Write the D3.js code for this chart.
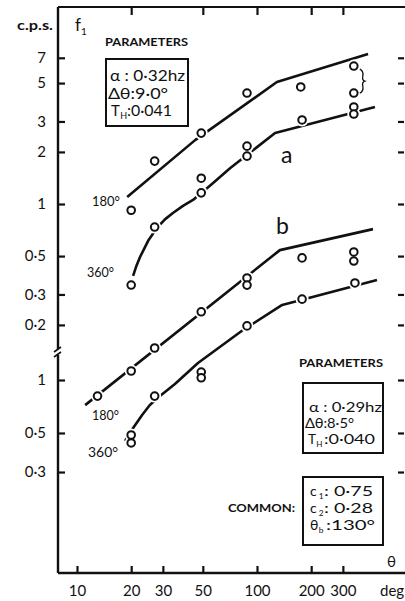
<!DOCTYPE html>
<html><head><meta charset="utf-8">
<script src="https://cdn.jsdelivr.net/npm/d3@7"></script>
<style>
html,body{margin:0;padding:0;background:#fff;}
svg{display:block;}
text{font-family:"Lato","Open Sans","DejaVu Sans",sans-serif;fill:#111;}
</style></head>
<body>
<script>
// ---------- data ----------
const thetaTicks = [10, 20, 30, 50, 100, 200, 300];
const thetaTickLabels = ["10", "20", "30", "50", "100", "200", "300"];
const thetaTopTicks = [20, 50, 100, 200, 300];
const fTicksA = [7, 5, 3, 2, 1, 0.5, 0.3, 0.2];
const fTickLabelsA = ["7", "5", "3", "2", "1", "0·5", "0·3", "0·2"];
const fTicksB = [1, 0.5, 0.3];
const fTickLabelsB = ["1", "0·5", "0·3"];

// set a (upper axis) measured points
const a180Theta = [20, 27, 49, 88, 175, 345, 345];
const a180F     = [0.92, 1.77, 2.57, 4.38, 4.75, 6.27, 4.38];
const a360Theta = [20, 27, 49, 49, 88, 88, 178, 345, 345];
const a360F     = [0.34, 0.736, 1.41, 1.16, 2.16, 1.89, 3.06, 3.64, 3.31];
// set a model curves
const a180LineTheta = [19.0, 45.3, 129, 414];
const a180LineF     = [1.098, 2.34, 5.07, 7.37];
const a360LineTheta = [20.5, 21.4, 22.4, 25.0, 27.8, 30.8, 34.1, 38.8, 44.1, 56, 70.8, 126, 452];
const a360LineF     = [0.384, 0.44, 0.494, 0.62, 0.727, 0.815, 0.887, 0.975, 1.055, 1.30, 1.61, 2.57, 3.64];

// set b (lower axis) measured points
const b180Theta = [13, 20, 27, 49, 88, 88, 178, 345, 345];
const b180F     = [0.81, 1.125, 1.52, 2.44, 3.80, 3.46, 4.94, 5.34, 4.74];
const b360Theta = [20, 20, 27, 49, 49, 88, 178, 350];
const b360F     = [0.487, 0.439, 0.81, 1.11, 1.03, 2.03, 2.88, 3.56];
// set b model curves
const b180LineTheta = [11.1, 134, 441];
const b180LineF     = [0.72, 5.47, 7.2];
const b360LineTheta = [18.5, 20.5, 23.0, 25.4, 28.9, 35.0, 47.0, 83.6, 138, 464];
const b360LineF     = [0.450, 0.534, 0.633, 0.721, 0.811, 0.949, 1.249, 1.923, 2.67, 3.70];

// ---------- layout ----------
const W = 405, H = 601;
const plotL = 58, plotR = 405, plotT = 7, plotB = 573;

const svg = d3.select("body").append("svg").attr("width", W).attr("height", H);

const x = d3.scaleLog().domain([10, 100]).range([77, 257]);
const yA = d3.scaleLog().domain([1, 10]).range([204, 204 - 173]);
const yB = d3.scaleLog().domain([1, 10]).range([380, 380 - 176]);

// frame
const frame = svg.append("g").attr("stroke", "#111").attr("fill", "none");
frame.append("line").attr("x1", plotL).attr("x2", plotL).attr("y1", plotT).attr("y2", plotB).attr("stroke-width", 2.4);
frame.append("line").attr("x1", plotL).attr("x2", plotR).attr("y1", plotB).attr("y2", plotB).attr("stroke-width", 2.4);
frame.append("line").attr("x1", plotL).attr("x2", plotR).attr("y1", plotT).attr("y2", plotT).attr("stroke-width", 2.2);

// axes
function styleAxis(g, fs) {
  g.select(".domain").remove();
  g.selectAll(".tick line").attr("stroke", "#111").attr("stroke-width", 2.2);
  g.selectAll(".tick text").attr("font-size", fs).attr("fill", "#111").attr("font-family", "Lato, 'Open Sans', sans-serif");
}
const axA = svg.append("g").attr("transform", `translate(${plotL},0)`)
  .call(d3.axisLeft(yA).tickValues(fTicksA).tickSize(-7).tickPadding(12)
        .tickFormat((d, i) => fTickLabelsA[i]));
styleAxis(axA, 15);
const axB = svg.append("g").attr("transform", `translate(${plotL},0)`)
  .call(d3.axisLeft(yB).tickValues(fTicksB).tickSize(-7).tickPadding(12)
        .tickFormat((d, i) => fTickLabelsB[i]));
styleAxis(axB, 15);
const axRA = svg.append("g").attr("transform", `translate(404,0)`)
  .call(d3.axisRight(yA).tickValues(fTicksA).tickSize(-6).tickFormat(""));
styleAxis(axRA, 0);
const axRB = svg.append("g").attr("transform", `translate(404,0)`)
  .call(d3.axisRight(yB).tickValues(fTicksB).tickSize(-6).tickFormat(""));
styleAxis(axRB, 0);
const axX = svg.append("g").attr("transform", `translate(0,${plotB})`)
  .call(d3.axisBottom(x).tickValues(thetaTicks).tickSize(-7).tickPadding(12)
        .tickFormat((d, i) => thetaTickLabels[i]));
styleAxis(axX, 15);
const axT = svg.append("g").attr("transform", `translate(0,${plotT})`)
  .call(d3.axisTop(x).tickValues(thetaTopTicks).tickSize(-8).tickFormat(""));
styleAxis(axT, 0);

// axis break mark
svg.append("rect").attr("x", plotL - 4).attr("y", 349).attr("width", 8).attr("height", 6).attr("fill", "#fff");
svg.append("line").attr("x1", plotL - 4).attr("y1", 352).attr("x2", plotL + 3).attr("y2", 347).attr("stroke", "#111").attr("stroke-width", 1.6);
svg.append("line").attr("x1", plotL - 4).attr("y1", 357).attr("x2", plotL + 3).attr("y2", 352).attr("stroke", "#111").attr("stroke-width", 1.6);

// curves
const zip = (t, f) => t.map((d, i) => [d, f[i]]);
const lineA = d3.line().x(d => x(d[0])).y(d => yA(d[1]));
const lineB = d3.line().x(d => x(d[0])).y(d => yB(d[1]));
const curves = svg.append("g").attr("fill", "none").attr("stroke", "#111").attr("stroke-width", 2.6).attr("stroke-linejoin", "round");
curves.append("path").attr("d", lineA(zip(a180LineTheta, a180LineF)));
curves.append("path").attr("d", lineA(zip(a360LineTheta, a360LineF)));
curves.append("path").attr("d", lineB(zip(b180LineTheta, b180LineF)));
curves.append("path").attr("d", lineB(zip(b360LineTheta, b360LineF)));

// points
const pts = [
  ...zip(a180Theta, a180F).map(d => ({ t: d[0], f: d[1], y: yA })),
  ...zip(a360Theta, a360F).map(d => ({ t: d[0], f: d[1], y: yA })),
  ...zip(b180Theta, b180F).map(d => ({ t: d[0], f: d[1], y: yB })),
  ...zip(b360Theta, b360F).map(d => ({ t: d[0], f: d[1], y: yB }))
];
svg.append("g").selectAll("circle").data(pts).join("circle")
  .attr("cx", d => x(d.t)).attr("cy", d => d.y(d.f)).attr("r", 6.5).attr("fill", "#fff");
svg.append("g").selectAll("circle").data(pts).join("circle")
  .attr("cx", d => x(d.t)).attr("cy", d => d.y(d.f)).attr("r", 3.8)
  .attr("fill", "#fff").attr("stroke", "#111").attr("stroke-width", 2);

// brace joining the two 345° points of a-180
svg.append("path")
  .attr("d", `M${x(345)+6},${yA(6.27)+3} q4,2 3,7 q-1,4 2,5 q-3,1 -2,5 q1,5 -3,7`)
  .attr("fill", "none").attr("stroke", "#111").attr("stroke-width", 1.3);

// labels
function txt(s, px, py, fs, opts = {}) {
  const t = svg.append("text").attr("x", px).attr("y", py).attr("font-size", fs).text(s);
  if (opts.weight) t.attr("font-weight", opts.weight);
  if (opts.anchor) t.attr("text-anchor", opts.anchor);
  if (opts.len) t.attr("textLength", opts.len).attr("lengthAdjust", "spacingAndGlyphs");
  return t;
}
txt("c.p.s.", 17, 30, 13, { weight: "bold", len: 36 });
txt("f", 75, 31, 17);
txt("1", 81, 35, 10);

txt("PARAMETERS", 105, 46, 11, { weight: "bold", len: 83 });
txt("PARAMETERS", 299, 367, 11, { weight: "bold", len: 84 });
txt("COMMON:", 228, 512, 11, { weight: "bold", len: 67 });

txt("180°", 92, 206, 14, { len: 28 });
txt("360°", 87, 277, 14, { len: 27 });
txt("a", 281, 163, 23);
txt("b", 276, 234, 23);
txt("180°", 92, 420, 14, { len: 27 });
txt("360°", 88, 457, 14, { len: 30 });
txt("deg", 380, 596, 15);
txt("θ", 387, 567, 15);

// boxes
function box(x0, y0, w, h) {
  svg.append("rect").attr("x", x0).attr("y", y0).attr("width", w).attr("height", h)
    .attr("fill", "none").attr("stroke", "#111").attr("stroke-width", 2);
}
// line with a subscript: main letter, subscript, rest
function subLine(px, py, fs, main, sub, rest, restX, restLen) {
  txt(main, px, py, fs);
  txt(sub, px + fs * 0.62, py + 3, fs * 0.6);
  txt(rest, restX, py, fs, { len: restLen });
}
box(106, 59, 82, 67);
txt("α : 0·32hz", 110, 81, 15, { len: 75 });
txt("Δθ:9·0°", 108, 99, 15, { len: 60 });
subLine(111, 116, 15, "T", "H", ":0·041", 127, 45);

box(303, 383, 80, 70);
txt("α : 0·29hz", 309, 412, 13.5, { len: 73 });
txt("Δθ:8·5°", 305, 428, 13.5, { len: 49 });
subLine(308, 444, 13.5, "T", "H", ":0·040", 324, 51);

box(303, 477, 80, 68);
subLine(310, 496, 14, "c", "1", ": 0·75", 324, 49);
subLine(310, 513, 14, "c", "2", ": 0·28", 324, 49);
subLine(310, 530, 14, "θ", "b", ":130°", 326, 49);
</script>
</body></html>
